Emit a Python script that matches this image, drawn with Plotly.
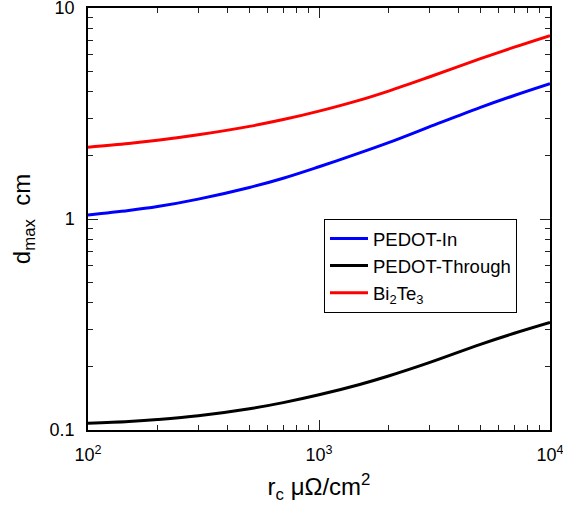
import plotly.graph_objects as go

r_c = [100, 150, 200, 300, 500, 700, 1000, 1500, 2000, 3000, 5000, 7000, 10000]
pedot_in = [1.045, 1.097, 1.145, 1.242, 1.411, 1.561, 1.769, 2.056, 2.30, 2.73, 3.38, 3.85, 4.38]
pedot_through = [0.1076, 0.1098, 0.1121, 0.1167, 0.1260, 0.1348, 0.1468, 0.1644, 0.1803, 0.2086, 0.2547, 0.2873, 0.3233]
bi2te3 = [2.19, 2.279, 2.359, 2.506, 2.748, 2.959, 3.245, 3.66, 4.04, 4.71, 5.75, 6.52, 7.40]

series_names = ["PEDOT-In", "PEDOT-Through", "Bi<sub>2</sub>Te<sub>3</sub>"]
series_values = [pedot_in, pedot_through, bi2te3]
series_colors = ["#0000ff", "#000000", "#ff0000"]

x_tickvals = [100, 1000, 10000]
x_ticktext = ["10<sup>2</sup>", "10<sup>3</sup>", "10<sup>4</sup>"]
y_tickvals = [0.1, 1, 10]
y_ticktext = ["0.1", "1", "10"]

x_minor = [m * d for d in (100, 1000) for m in range(2, 10)]
y_minor = [round(m * d, 3) for d in (0.1, 1) for m in range(2, 10)]

fig = go.Figure()
for name, vals, col in zip(series_names, series_values, series_colors):
    fig.add_trace(go.Scatter(x=r_c, y=vals, mode="lines", name=name,
                             line=dict(color=col, width=3, shape="spline")))

# invisible helper trace that activates the overlay axes carrying the minor ticks
fig.add_trace(go.Scatter(x=[100, 10000], y=[0.1, 10], mode="markers", xaxis="x2", yaxis="y2",
                         showlegend=False, hoverinfo="skip", marker=dict(opacity=0)))

font_family = "Liberation Sans, Arial, sans-serif"
fig.update_layout(
    width=563, height=522,
    margin=dict(l=88, r=13, t=8, b=92),
    paper_bgcolor="white", plot_bgcolor="white",
    font=dict(family=font_family, size=18, color="black"),
    showlegend=True,
    legend=dict(x=0.5108, y=0.5, xanchor="left", yanchor="top",
                bordercolor="black", borderwidth=1, bgcolor="white",
                font=dict(size=18.5, family=font_family),
                tracegroupgap=0, itemwidth=38),
)
axis_common = dict(
    showline=True, linecolor="black", linewidth=1.5, mirror="allticks",
    ticks="inside", tickwidth=1.2, tickcolor="#222222", layer="above traces",
    showgrid=False, zeroline=False, automargin=False,
    tickfont=dict(size=18), ticklabeloverflow="allow",
)
fig.update_layout(
    xaxis=dict(
        type="log", range=[2, 4], tickmode="array", tickvals=x_tickvals, ticktext=x_ticktext,
        ticklen=10, ticklabelstandoff=8,
        title=dict(text="r<sub>c</sub> μΩ/cm<sup>2</sup>", font=dict(size=24), standoff=14),
        **axis_common,
    ),
    yaxis=dict(
        type="log", range=[-1, 1], tickmode="array", tickvals=y_tickvals, ticktext=y_ticktext,
        ticklen=10, ticklabelstandoff=8,
        title=dict(text="d<sub>max</sub>  cm", font=dict(size=24), standoff=12),
        **axis_common,
    ),
    xaxis2=dict(
        type="log", range=[2, 4], overlaying="x", anchor="y", side="bottom",
        tickmode="array", tickvals=x_minor, showticklabels=False, ticklen=5,
        **axis_common,
    ),
    yaxis2=dict(
        type="log", range=[-1, 1], overlaying="y", anchor="x", side="left",
        tickmode="array", tickvals=y_minor, showticklabels=False, ticklen=5,
        **axis_common,
    ),
)
fig.write_html("out.html")
